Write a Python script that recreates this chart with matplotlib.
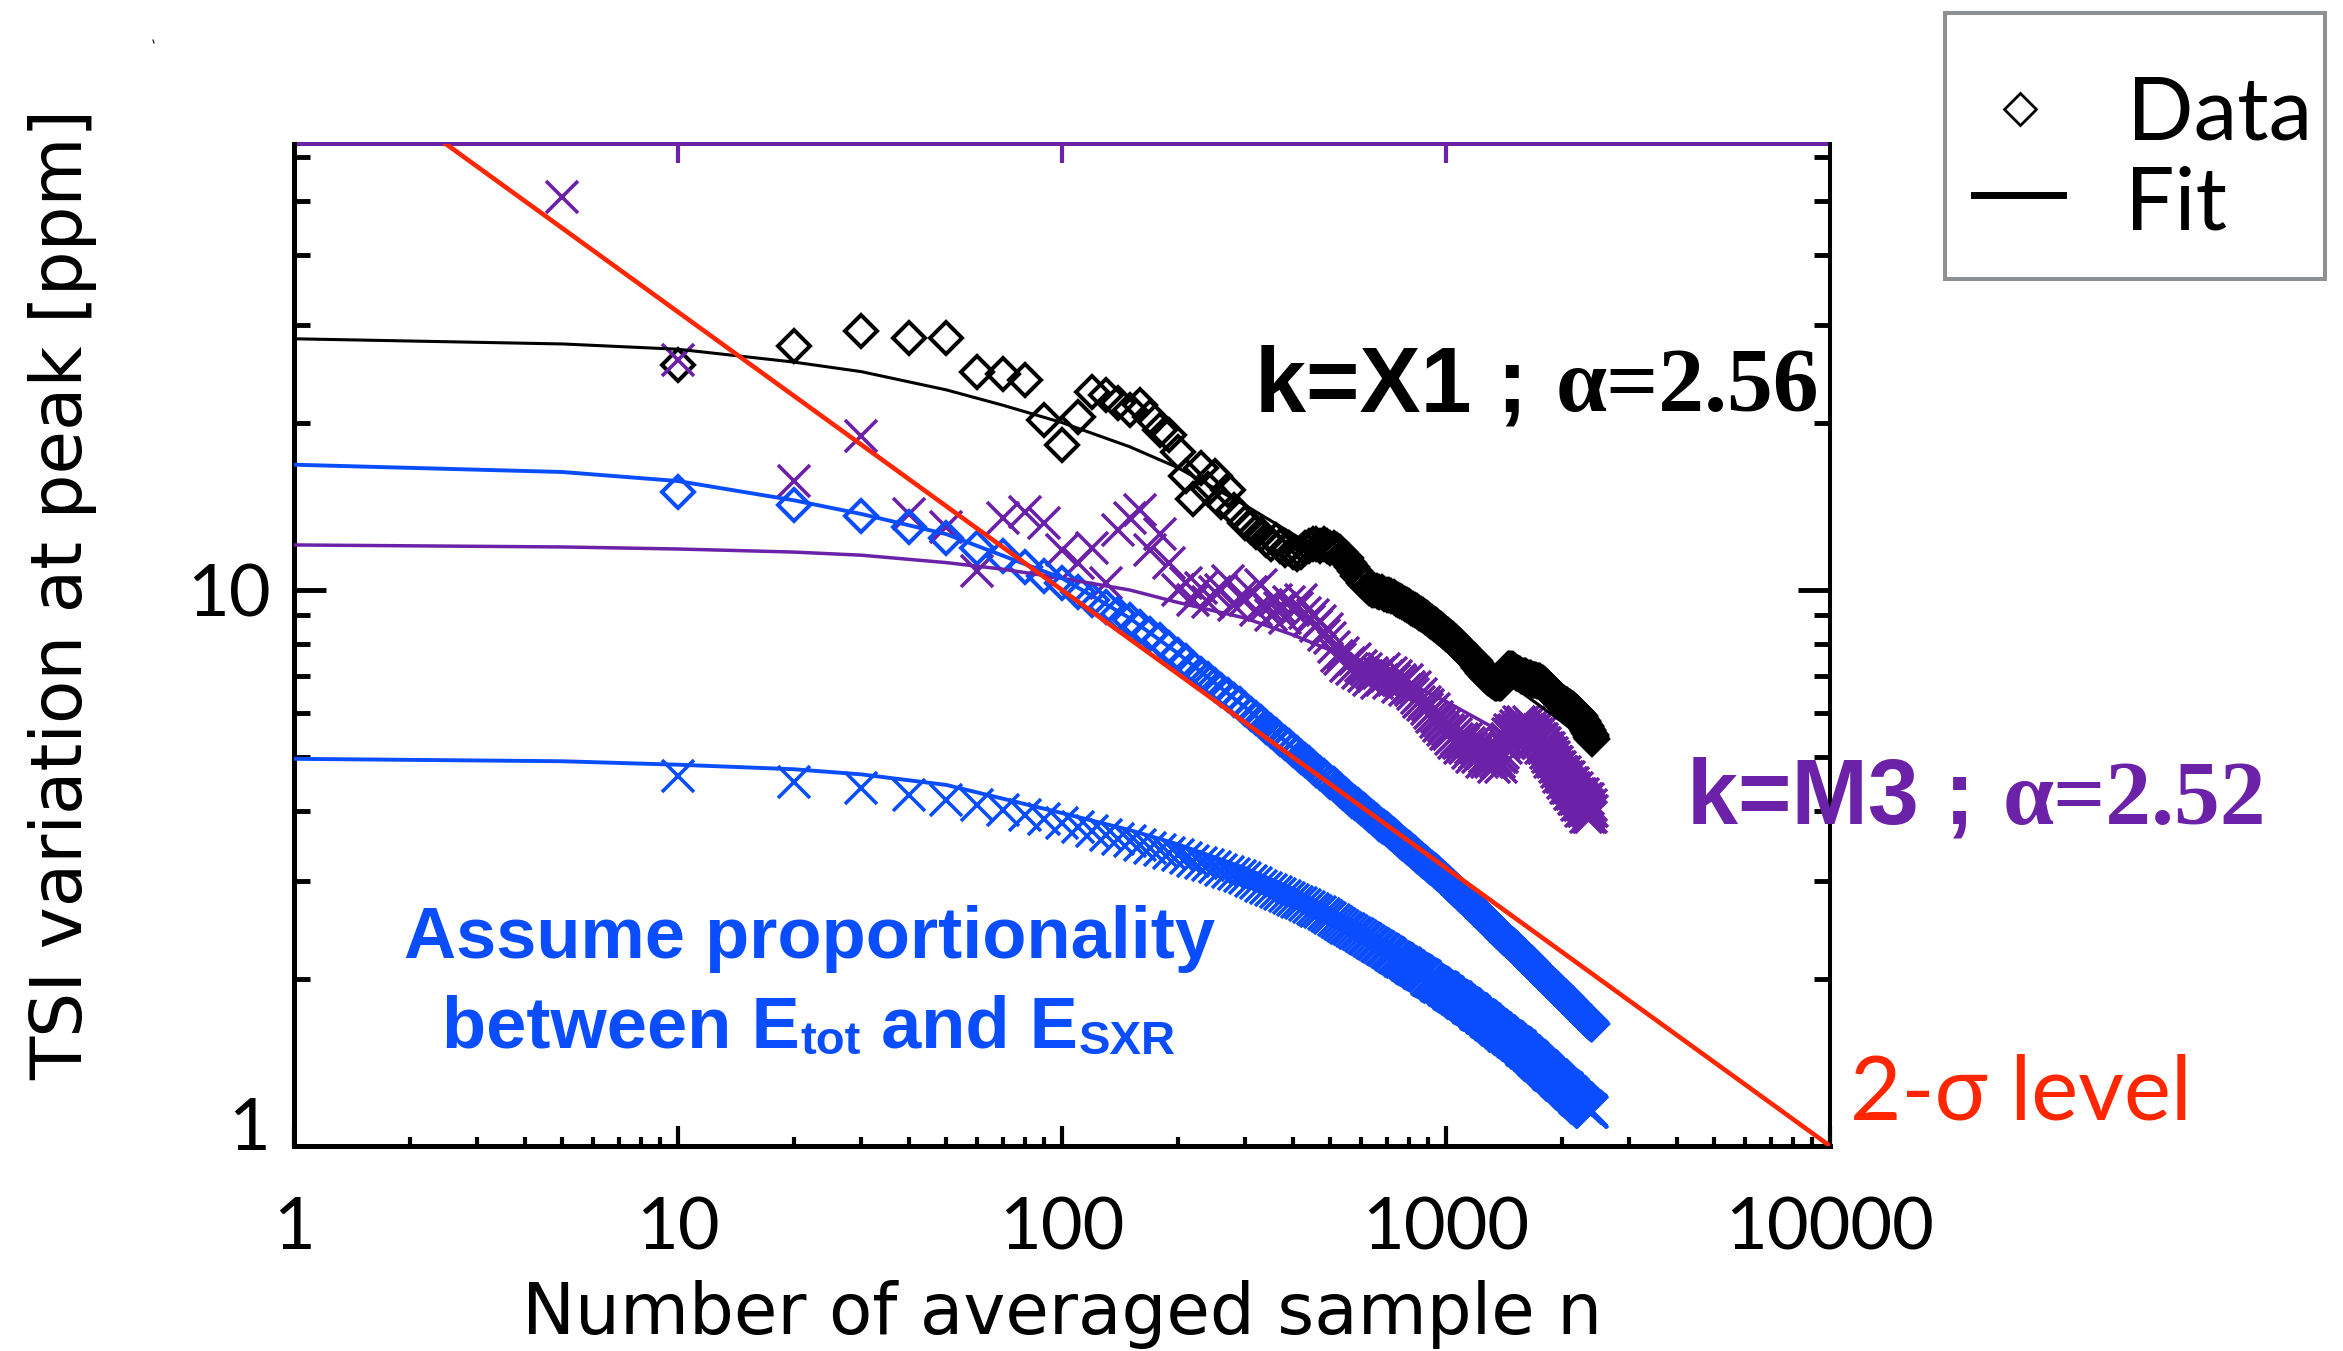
import numpy as np
import matplotlib
matplotlib.use("Agg")
import matplotlib.pyplot as plt
from matplotlib.transforms import IdentityTransform, ScaledTranslation
from matplotlib.lines import Line2D
from matplotlib.patches import Rectangle
from matplotlib.ticker import LogLocator, NullLocator, NullFormatter

W, H, DPI = 2343, 1351, 100

PURPLE = "#6B21A8"
BLUE = "#0A4DFF"
RED = "#FF2600"
GREY = "#8E9194"

# ---------------------------------------------------------------- data
# number of averaged samples for the flare curves
n_avg = np.arange(10, 2410, 10)
n_m3 = np.concatenate(([5], n_avg))

# X1 flare, measured peak TSI variation [ppm]
x1_data = [
    25.4, 27.5, 29.2, 28.4, 28.4, 24.7, 24.5, 23.9, 20.2, 18.2,
    20.5, 22.7, 22.4, 21.7, 21.1, 21.5, 20.5, 19.4, 19.0, 17.7,
    16.0, 14.6, 16.6, 15.2, 16.0, 14.4, 15.1, 13.9, 13.6, 13.2,
    13.0, 12.7, 12.6, 12.3, 12.1, 12.3, 12.0, 11.8, 11.9, 11.7,
    11.6, 11.7, 11.9, 12.0, 12.1, 12.1, 12.0, 12.1, 12.0, 11.9,
    11.9, 11.8, 11.7, 11.5, 11.4, 11.2, 11.0, 10.8, 10.6, 10.5,
    10.3, 10.2, 10.1, 10.0, 10.0, 9.95, 9.9, 9.9, 9.85, 9.8,
    9.8, 9.75, 9.7, 9.65, 9.6, 9.55, 9.5, 9.45, 9.4, 9.35,
    9.3, 9.25, 9.2, 9.15, 9.1, 9.05, 9.0, 8.95, 8.9, 8.85,
    8.8, 8.75, 8.7, 8.65, 8.6, 8.55, 8.5, 8.45, 8.4, 8.35,
    8.3, 8.25, 8.2, 8.15, 8.1, 8.05, 8.0, 7.95, 7.9, 7.85,
    7.8, 7.75, 7.7, 7.65, 7.6, 7.55, 7.5, 7.47, 7.44, 7.4,
    7.3, 7.25, 7.2, 7.15, 7.1, 7.05, 7.0, 6.97, 6.94, 6.91,
    6.88, 6.85, 6.83, 6.81, 6.8, 6.8, 6.8, 6.8, 6.8, 6.82,
    6.9, 7.0, 7.1, 7.15, 7.2, 7.2, 7.2, 7.2, 7.2, 7.15,
    7.15, 7.1, 7.1, 7.1, 7.05, 7.05, 7.0, 7.0, 7.0, 7.0,
    7.0, 7.0, 6.95, 6.95, 6.95, 6.95, 6.9, 6.9, 6.9, 6.9,
    6.9, 6.9, 6.85, 6.85, 6.85, 6.85, 6.8, 6.8, 6.8, 6.78,
    6.75, 6.72, 6.7, 6.67, 6.64, 6.6, 6.57, 6.54, 6.5, 6.47,
    6.45, 6.43, 6.41, 6.39, 6.37, 6.35, 6.34, 6.32, 6.31, 6.3,
    6.28, 6.27, 6.25, 6.24, 6.22, 6.21, 6.2, 6.18, 6.17, 6.15,
    6.14, 6.13, 6.11, 6.1, 6.08, 6.07, 6.05, 6.04, 6.02, 6.0,
    5.98, 5.96, 5.93, 5.9, 5.87, 5.84, 5.81, 5.78, 5.75, 5.72,
    5.69, 5.66, 5.63, 5.6, 5.57, 5.54, 5.51, 5.48, 5.44, 5.4,
]

# M3 flare, measured peak TSI variation [ppm] (first point at n = 5)
m3_data = [
    51.0,
    25.9, 15.7, 18.9, 13.7, 13.0, 10.8, 13.5, 13.8, 13.2, 11.8,
    11.2, 11.9, 10.3, 12.8, 13.5, 13.9, 11.8, 12.6, 11.2, 10.0,
    10.3, 9.6, 10.1, 9.5, 9.9, 10.0, 10.4, 9.4, 9.7, 9.6,
    9.9, 9.2, 10.2, 9.4, 9.0, 9.6, 9.3, 8.9, 9.5, 9.2,
    9.3, 9.6, 9.1, 8.8, 9.0, 8.6, 8.8, 8.3, 8.5, 8.2,
    7.9, 7.6, 7.5, 7.7, 7.3, 7.4, 7.2, 7.5, 7.1, 7.3,
    7.0, 7.2, 6.9, 7.1, 7.0, 6.8, 7.1, 6.9, 7.2, 7.0,
    6.8, 7.1, 6.9, 7.0, 6.7, 6.9, 6.8, 6.6, 6.9, 6.7,
    6.6, 6.5, 6.7, 6.4, 6.3, 6.5, 6.2, 6.3, 6.1, 6.2,
    6.0, 5.9, 6.1, 5.8, 5.9, 5.7, 5.8, 5.6, 5.7, 5.5,
    5.6, 5.5, 5.4, 5.6, 5.3, 5.5, 5.4, 5.3, 5.2, 5.4,
    5.3, 5.2, 5.4, 5.1, 5.3, 5.2, 5.0, 5.3, 5.1, 5.2,
    5.0, 5.2, 5.1, 4.9, 5.1, 5.0, 5.2, 4.9, 5.0, 5.1,
    4.9, 5.0, 4.8, 5.0, 4.9, 5.1, 4.9, 5.0, 4.8, 5.0,
    5.1, 5.3, 5.2, 5.4, 5.5, 5.3, 5.6, 5.5, 5.4, 5.6,
    5.5, 5.7, 5.5, 5.6, 5.8, 5.5, 5.7, 5.6, 5.8, 5.6,
    5.7, 5.5, 5.6, 5.8, 5.6, 5.5, 5.7, 5.5, 5.6, 5.4,
    5.6, 5.4, 5.5, 5.3, 5.5, 5.4, 5.2, 5.4, 5.3, 5.2,
    5.3, 5.1, 5.2, 5.0, 5.1, 5.2, 4.9, 5.0, 5.1, 4.9,
    5.0, 4.8, 4.9, 4.7, 4.9, 4.8, 4.6, 4.8, 4.7, 4.6,
    4.7, 4.5, 4.6, 4.7, 4.4, 4.6, 4.5, 4.4, 4.6, 4.3,
    4.5, 4.4, 4.3, 4.5, 4.2, 4.4, 4.3, 4.2, 4.4, 4.1,
    4.3, 4.2, 4.1, 4.3, 4.0, 4.2, 4.1, 4.3, 4.0, 4.1,
    4.2, 3.9, 4.1, 4.0, 4.2, 3.9, 4.0, 4.1, 3.9, 4.0,
]

# X1 flare, assuming E_tot proportional to E_SXR
x1_prop = [
    15.0, 14.2, 13.6, 13.0, 12.4, 11.9, 11.5, 11.0, 10.6, 10.28,
    9.93, 9.6, 9.33, 9.07, 8.82, 8.58, 8.35, 8.13, 7.88, 7.64,
    7.44, 7.25, 7.07, 6.91, 6.76, 6.61, 6.48, 6.35, 6.23, 6.11,
    5.99, 5.88, 5.78, 5.67, 5.58, 5.49, 5.40, 5.31, 5.23, 5.16,
    5.09, 5.01, 4.94, 4.88, 4.81, 4.75, 4.69, 4.63, 4.58, 4.52,
    4.47, 4.42, 4.37, 4.32, 4.27, 4.23, 4.18, 4.14, 4.10, 4.06,
    4.02, 3.98, 3.94, 3.91, 3.87, 3.84, 3.80, 3.77, 3.74, 3.71,
    3.68, 3.65, 3.62, 3.59, 3.56, 3.53, 3.51, 3.48, 3.45, 3.43,
    3.40, 3.38, 3.36, 3.33, 3.31, 3.28, 3.26, 3.24, 3.22, 3.20,
    3.18, 3.16, 3.14, 3.12, 3.10, 3.08, 3.06, 3.04, 3.02, 3.00,
    2.98, 2.96, 2.94, 2.92, 2.90, 2.89, 2.87, 2.85, 2.83, 2.82,
    2.80, 2.78, 2.77, 2.75, 2.73, 2.72, 2.70, 2.69, 2.67, 2.66,
    2.64, 2.63, 2.61, 2.60, 2.59, 2.57, 2.56, 2.55, 2.53, 2.52,
    2.51, 2.49, 2.48, 2.47, 2.46, 2.44, 2.43, 2.42, 2.41, 2.40,
    2.38, 2.37, 2.36, 2.35, 2.34, 2.33, 2.32, 2.31, 2.30, 2.29,
    2.28, 2.27, 2.26, 2.25, 2.24, 2.23, 2.22, 2.21, 2.20, 2.19,
    2.18, 2.17, 2.16, 2.15, 2.14, 2.13, 2.13, 2.12, 2.11, 2.10,
    2.09, 2.08, 2.07, 2.07, 2.06, 2.05, 2.04, 2.03, 2.03, 2.02,
    2.01, 2.00, 2.00, 1.99, 1.98, 1.97, 1.97, 1.96, 1.95, 1.94,
    1.94, 1.93, 1.92, 1.92, 1.91, 1.90, 1.90, 1.89, 1.88, 1.88,
    1.87, 1.86, 1.86, 1.85, 1.85, 1.84, 1.83, 1.83, 1.82, 1.82,
    1.81, 1.80, 1.80, 1.79, 1.79, 1.78, 1.77, 1.77, 1.76, 1.76,
    1.75, 1.75, 1.74, 1.74, 1.73, 1.73, 1.72, 1.71, 1.71, 1.70,
    1.70, 1.69, 1.69, 1.68, 1.68, 1.67, 1.67, 1.67, 1.66, 1.66,
]

# M3 flare, assuming E_tot proportional to E_SXR
m3_prop = [
    4.63, 4.52, 4.40, 4.28, 4.19, 4.10, 4.02, 3.94, 3.87, 3.81,
    3.74, 3.68, 3.62, 3.57, 3.53, 3.48, 3.44, 3.41, 3.37, 3.34,
    3.30, 3.26, 3.23, 3.20, 3.17, 3.14, 3.11, 3.08, 3.06, 3.03,
    3.00, 2.97, 2.94, 2.91, 2.89, 2.86, 2.84, 2.82, 2.79, 2.77,
    2.75, 2.73, 2.71, 2.69, 2.67, 2.65, 2.63, 2.61, 2.59, 2.57,
    2.55, 2.53, 2.51, 2.49, 2.47, 2.46, 2.44, 2.42, 2.41, 2.39,
    2.37, 2.36, 2.34, 2.32, 2.31, 2.29, 2.28, 2.26, 2.25, 2.23,
    2.22, 2.21, 2.19, 2.18, 2.17, 2.15, 2.14, 2.13, 2.12, 2.11,
    2.09, 2.08, 2.07, 2.06, 2.05, 2.04, 2.03, 2.02, 2.00, 1.99,
    1.98, 1.97, 1.96, 1.95, 1.94, 1.93, 1.93, 1.92, 1.91, 1.90,
    1.89, 1.88, 1.87, 1.86, 1.85, 1.85, 1.84, 1.83, 1.82, 1.81,
    1.81, 1.80, 1.79, 1.78, 1.77, 1.76, 1.76, 1.75, 1.74, 1.73,
    1.72, 1.72, 1.71, 1.70, 1.70, 1.69, 1.68, 1.67, 1.67, 1.66,
    1.65, 1.65, 1.64, 1.63, 1.63, 1.62, 1.61, 1.61, 1.60, 1.60,
    1.59, 1.58, 1.58, 1.57, 1.57, 1.56, 1.56, 1.55, 1.54, 1.54,
    1.53, 1.53, 1.52, 1.52, 1.51, 1.51, 1.50, 1.49, 1.49, 1.48,
    1.48, 1.47, 1.47, 1.46, 1.45, 1.45, 1.44, 1.44, 1.43, 1.43,
    1.42, 1.42, 1.41, 1.41, 1.40, 1.40, 1.39, 1.39, 1.38, 1.38,
    1.37, 1.37, 1.36, 1.36, 1.35, 1.35, 1.34, 1.34, 1.34, 1.33,
    1.33, 1.32, 1.32, 1.31, 1.31, 1.31, 1.30, 1.30, 1.29, 1.29,
    1.29, 1.28, 1.28, 1.27, 1.27, 1.27, 1.26, 1.26, 1.25, 1.25,
    1.25, 1.24, 1.24, 1.24, 1.23, 1.23, 1.22, 1.22, 1.22, 1.21,
    1.21, 1.21, 1.20, 1.20, 1.20, 1.19, 1.19, 1.19, 1.18, 1.18,
    1.18, 1.17, 1.17, 1.17, 1.17, 1.16, 1.16, 1.16, 1.15, 1.15,
]

# fitted curves
fit_n = [1, 5, 10, 20, 30, 50, 70, 100, 150, 200, 300, 400, 600, 800, 1000, 1500, 2000, 2400]
x1_fit = [28.3, 27.7, 27.1, 25.7, 24.7, 22.9, 21.5, 20.0, 18.1, 16.6, 14.2, 12.6, 10.6, 9.2, 8.2, 6.7, 5.8, 5.25]
m3_fit = [12.05, 11.95, 11.85, 11.7, 11.55, 11.2, 10.9, 10.5, 10.0, 9.5, 8.9, 8.3, 7.4, 6.8, 6.3, 5.4, 4.8, 4.45]

prop_fit_n = [1, 5, 10, 20, 30, 50, 100, 150, 200, 300, 400, 600, 800, 1000, 1300, 1700, 2000, 2400]
x1_prop_fit = [16.8, 16.3, 15.7, 14.5, 13.7, 12.6, 10.5, 8.9, 7.7, 6.15, 5.2, 4.1, 3.45, 3.02, 2.54, 2.12, 1.89, 1.67]
m3_prop_fit = [4.97, 4.92, 4.85, 4.76, 4.66, 4.46, 3.97, 3.70, 3.49, 3.16, 2.90, 2.49, 2.20, 1.98, 1.74, 1.51, 1.37, 1.19]

# 2-sigma noise level of the averaged TSI
sigma_n = [1, 10000]
sigma_ppm = [100, 1]

x_ticks = [1, 10, 100, 1000, 10000]
x_ticklabels = ["1", "10", "100", "1000", "10000"]
y_ticks = [1, 10]
y_ticklabels = ["1", "10"]

# ---------------------------------------------------------------- figure
LIGHT = ["Lato", "DejaVu Sans"]
SANS = ["Liberation Sans", "DejaVu Sans"]
SERIF = ["Liberation Serif", "DejaVu Serif"]

fig = plt.figure(figsize=(W / DPI, H / DPI), dpi=DPI)
fig.patch.set_facecolor("white")


def fx(x):
    return x / W


def fy(y):
    return 1 - y / H


ax = fig.add_axes([fx(294), fy(1146), (1830 - 294) / W, (1146 - 144) / H])
ax.set_xscale("log")
ax.set_yscale("log")
ax.set_xlim(1, 10000)
ax.set_ylim(1, 63.4)

# markers
ax.plot(n_avg, x1_data, ls="none", marker="D", ms=16.5, mfc="none", mec="black", mew=2.9, zorder=2)
ax.plot(n_m3, m3_data, ls="none", marker="x", ms=23.5, mec=PURPLE, mew=2.6, zorder=2.1)
ax.plot(n_avg, x1_prop, ls="none", marker="D", ms=16.5, mfc="none", mec=BLUE, mew=2.9, zorder=2.2)
ax.plot(n_avg, m3_prop, ls="none", marker="x", ms=23.5, mec=BLUE, mew=2.6, zorder=2.3)

# fits
ax.plot(fit_n, x1_fit, color="black", lw=2.2, zorder=3)
ax.plot(fit_n, m3_fit, color=PURPLE, lw=2.5, zorder=3)
ax.plot(prop_fit_n, x1_prop_fit, color=BLUE, lw=2.8, zorder=3)
ax.plot(prop_fit_n, m3_prop_fit, color=BLUE, lw=2.8, zorder=3)

# noise level
ax.plot(sigma_n, sigma_ppm, color=RED, lw=3.3, zorder=4)

# axes styling
for side, lw in (("left", 3.6), ("bottom", 3.6), ("right", 2.9)):
    ax.spines[side].set_linewidth(lw)
    ax.spines[side].set_color("black")
ax.spines["top"].set_visible(False)

ax.set_xticks(x_ticks)
ax.set_xticklabels(x_ticklabels)
ax.xaxis.set_minor_locator(LogLocator(base=10, subs=np.arange(2, 10), numticks=20))
ax.xaxis.set_minor_formatter(NullFormatter())
ax.set_yticks(y_ticks)
ax.set_yticklabels(y_ticklabels)
ax.yaxis.set_minor_locator(LogLocator(base=10, subs=np.arange(2, 10), numticks=20))
ax.yaxis.set_minor_formatter(NullFormatter())

ax.tick_params(axis="x", which="major", direction="in", length=14.5, width=3.0,
               bottom=True, top=False, pad=36, labelsize=52)
ax.tick_params(axis="x", which="minor", direction="in", length=6.5, width=3.0,
               bottom=True, top=False)
ax.tick_params(axis="y", which="major", direction="in", length=23, width=3.5,
               left=True, right=True, pad=17, labelsize=52)
ax.tick_params(axis="y", which="minor", direction="in", length=11.5, width=3.5,
               left=True, right=True)
for lab in ax.get_xticklabels() + ax.get_yticklabels():
    lab.set_fontfamily(LIGHT)
    lab.set_fontweight("normal")

# the "1" on the y axis sits a little above its tick
lab1 = ax.yaxis.get_major_ticks()[0].label1
lab1.set_transform(lab1.get_transform() + ScaledTranslation(0, 0.23, fig.dpi_scale_trans))

# purple top axis with decade ticks only
top = ax.secondary_xaxis("top")
top.set_xticks([10, 100, 1000])
top.xaxis.set_minor_locator(NullLocator())
top.tick_params(axis="x", which="major", direction="in", length=13.5, width=3.0,
                colors=PURPLE, labeltop=False)
top.spines["top"].set_color(PURPLE)
top.spines["top"].set_linewidth(2.9)

# axis titles
fig.text(fx(63), fy(594), "TSI variation at peak [ppm]", rotation=90,
         ha="center", va="center", fontsize=51, family=["DejaVu Sans"])
fig.text(fx(1062), fy(1334), "Number of averaged sample n", ha="center",
         va="baseline", fontsize=51, family=["DejaVu Sans"])

renderer = fig.canvas.get_renderer()


def text_runs(x, y, runs, color, ha="left"):
    """Place text pieces one after another on a common baseline.

    x, y are pixels from the top-left corner; each run is
    (text, font properties, gap before it in px, downward shift in px).
    """
    placed = []
    total = 0.0
    for s, props, gap, down in runs:
        t = fig.text(0, 0, s, color=color, ha="left", va="baseline",
                     transform=IdentityTransform(), **props)
        w = t.get_window_extent(renderer).width
        placed.append((t, total + gap, down))
        total += gap + w
    x0 = x - total / 2 if ha == "center" else x
    for t, off, down in placed:
        t.set_position((x0 + off, H - y - down))


bold_sans = dict(family=SANS, weight="bold", size=66)
bold_serif = dict(family=SERIF, weight="bold", size=66)
text_runs(1255, 411, [("k=X1 ;", bold_sans, 0, 0), ("\u03b1=2.56", bold_serif, 28, 0)], "black")
text_runs(1687, 824, [("k=M3 ;", bold_sans, 0, 0), ("\u03b1=2.52", bold_serif, 28, 0)], PURPLE)

big = dict(family=SANS, weight="bold", size=52)
small = dict(family=SANS, weight="bold", size=34)
text_runs(809, 958, [("Assume proportionality", big, 0, 0)], BLUE, ha="center")
text_runs(809, 1047, [("between E", big, 0, 0), ("tot", small, 1, 7),
                      (" and E", big, 0, 0), ("SXR", small, 1, 7)], BLUE, ha="center")

fig.text(fx(1850), fy(1120), "2-\u03c3 level", color=RED, fontsize=64,
         family=LIGHT, ha="left", va="baseline")

# legend box
fig.add_artist(Rectangle((1945, H - 279), 380, 266, transform=IdentityTransform(),
                         fill=False, ec=GREY, lw=2.9))
fig.add_artist(Line2D([2020], [H - 109], transform=IdentityTransform(), marker="D",
                      ms=16, mfc="none", mec="black", mew=2.0, ls="none"))
fig.add_artist(Line2D([1974, 2063], [H - 195, H - 195], transform=IdentityTransform(),
                      color="black", lw=5))
fig.text(fx(2127), fy(140), "Data", fontsize=63, family=LIGHT,
         ha="left", va="baseline")
fig.text(fx(2125), fy(230), "Fit", fontsize=63, family=LIGHT,
         ha="left", va="baseline")

# small stray mark in the upper-left corner
fig.add_artist(Line2D([153, 154], [H - 40, H - 43], transform=IdentityTransform(),
                      color="black", lw=0.8))

fig.savefig("out.png", dpi=DPI, facecolor="white")
